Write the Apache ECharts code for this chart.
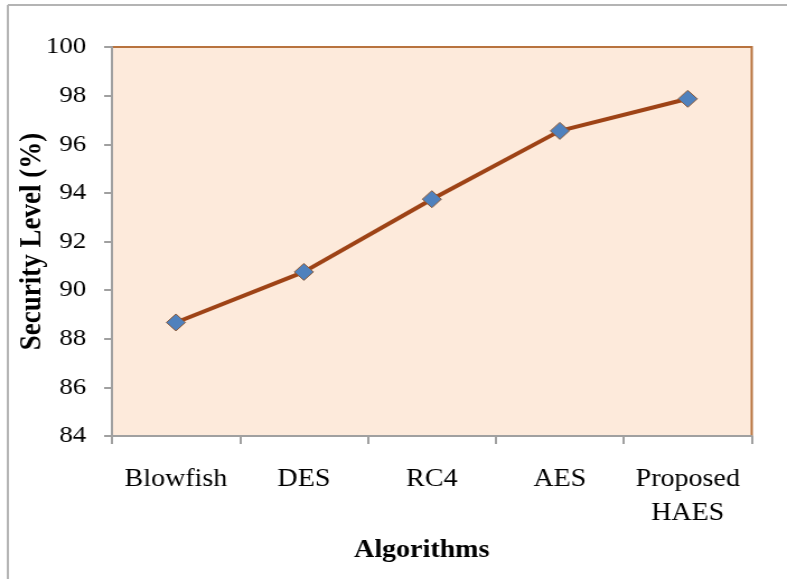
<!DOCTYPE html>
<html>
<head>
<meta charset="utf-8">
<title>Security Level by Algorithm</title>
<script src="https://cdn.jsdelivr.net/npm/echarts@6/dist/echarts.min.js"></script>
<style>
  html, body { margin: 0; padding: 0; background: #ffffff; overflow: hidden; }
  #wrap { width: 787px; height: 579px; overflow: hidden; }
  /* chart laid out narrower, then widened so the serif text reads broad */
  #chart { width: 703px; height: 579px; transform: scaleX(1.1195); transform-origin: 0 0; }
</style>
</head>
<body>
<div id="wrap"><div id="chart"></div></div>
<script>
// Algorithms compared
const categories = ['Blowfish', 'DES', 'RC4', 'AES', 'Proposed\nHAES'];
// Security level (%) per algorithm
const securityLevel = [88.67, 90.75, 93.74, 96.55, 97.87];
// Value axis range and step
const yMin = 84;
const yMax = 100;
const yStep = 2;

const serif = '"Liberation Serif", "Times New Roman", serif';
const chart = echarts.init(document.getElementById('chart'), null, { renderer: 'canvas' });

chart.setOption({
  animation: false,
  backgroundColor: '#ffffff',
  graphic: [
    { type: 'line', shape: { x1: 7, y1: 5, x2: 703, y2: 5 }, style: { stroke: '#b4b4b4', lineWidth: 2 }, z: 0 },
    { type: 'line', shape: { x1: 7, y1: 5, x2: 7, y2: 579 }, style: { stroke: '#b4b4b4', lineWidth: 2 }, z: 0 }
  ],
  grid: {
    left: 100,
    right: 31.5,
    top: 47,
    bottom: 143,
    containLabel: false,
    outerBoundsMode: 'none',
    show: true,
    backgroundColor: '#fdeadb',
    borderColor: '#b8733e',
    borderWidth: 2
  },
  xAxis: {
    type: 'category',
    data: categories,
    boundaryGap: true,
    name: 'Algorithms',
    nameLocation: 'middle',
    nameGap: 102,
    nameTextStyle: { fontFamily: serif, fontSize: 25, fontWeight: 'bold', color: '#000', padding: [0, 18, 0, 0] },
    axisLine: { show: true, lineStyle: { color: '#a0a0a0', width: 2 } },
    axisTick: { show: true, alignWithLabel: false, length: 8, lineStyle: { color: '#a0a0a0', width: 2 } },
    axisLabel: { fontFamily: serif, fontSize: 25, color: '#000', margin: 26, lineHeight: 34, interval: 0 },
    splitLine: { show: false }
  },
  yAxis: {
    type: 'value',
    min: yMin,
    max: yMax,
    interval: yStep,
    name: 'Security Level (%)',
    nameLocation: 'middle',
    nameRotate: 90,
    nameGap: 57.5,
    nameMoveOverlap: false,
    nameTextStyle: { fontFamily: serif, fontSize: 27, fontWeight: 'bold', color: '#000' },
    axisLine: { show: true, lineStyle: { color: '#a0a0a0', width: 2 } },
    axisTick: { show: true, inside: false, length: 7, lineStyle: { color: '#a0a0a0', width: 2 } },
    axisLabel: { fontFamily: serif, fontSize: 24, color: '#000', margin: 23 },
    splitLine: { show: false }
  },
  series: [{
    type: 'line',
    data: securityLevel,
    symbol: 'diamond',
    symbolSize: [17, 17],
    lineStyle: { color: '#9e4316', width: 4 },
    itemStyle: { color: '#4f81bd', borderColor: '#8a5a3a', borderWidth: 1 },
    z: 3
  }]
});
</script>
</body>
</html>
